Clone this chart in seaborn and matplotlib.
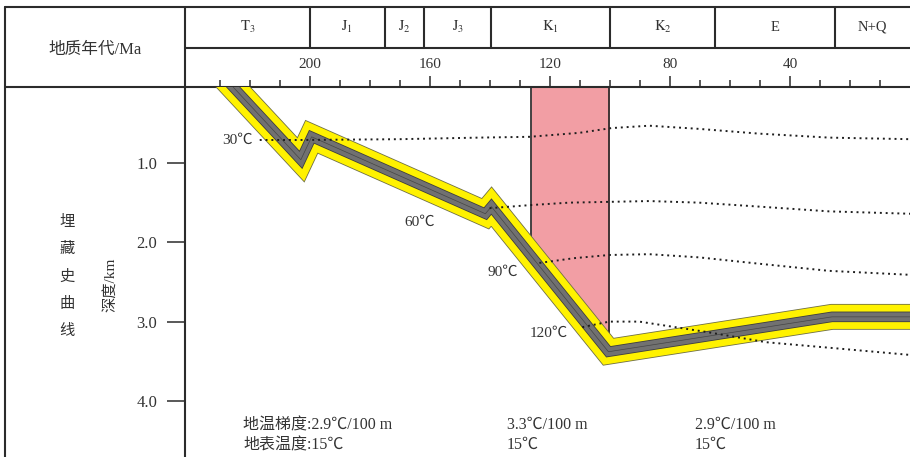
import numpy as np
import pandas as pd
import matplotlib
matplotlib.use("Agg")
import matplotlib.pyplot as plt
from matplotlib.lines import Line2D
from matplotlib.ticker import FormatStrFormatter
import seaborn as sns

# ---------------- data ----------------
# burial path of the reservoir strata: age (Ma) vs burial depth (km)
burial_age = [226.6, 203.0, 199.4, 141.5, 139.5, 100.5, 26.0, 0.0]
burial_depth = [0.00, 0.96, 0.67, 1.64, 1.55, 3.38, 2.94, 2.94]

# isotherms (age in Ma, depth in km)
iso30_age = [216.7, 203.3, 170.1, 143.5, 126.8, 110.2, 99.5, 86.9, 70.3, 50.3, 27.0, 0.0]
iso30_depth = [0.71, 0.71, 0.70, 0.68, 0.67, 0.62, 0.56, 0.53, 0.57, 0.63, 0.68, 0.70]
iso60_age = [140.1, 126.2, 113.5, 100.2, 86.9, 70.3, 50.3, 27.0, 0.0]
iso60_depth = [1.57, 1.53, 1.50, 1.49, 1.48, 1.50, 1.55, 1.61, 1.64]
iso90_age = [123.5, 111.9, 100.2, 86.9, 70.3, 50.3, 27.0, 0.0]
iso90_depth = [2.26, 2.20, 2.16, 2.15, 2.19, 2.27, 2.36, 2.41]
iso120_age = [109.2, 100.2, 90.2, 67.9, 47.9, 23.7, 0.0]
iso120_depth = [3.07, 3.00, 3.00, 3.13, 3.26, 3.34, 3.42]
iso_labels = ["30℃", "60℃", "90℃", "120℃"]

# stratigraphic periods and their boundaries (Ma)
period_names = [r"$\mathrm{T}_3$", r"$\mathrm{J}_1$", r"$\mathrm{J}_2$", r"$\mathrm{J}_3$",
                r"$\mathrm{K}_1$", r"$\mathrm{K}_2$", "E", "N+Q"]
period_bounds = [241.6, 200, 175, 162, 139.5, 100, 65, 25, 0]

age_ticks = [200, 160, 120, 80, 40]
age_minor = [a for a in range(10, 240, 10) if a not in age_ticks]
depth_ticks = [1.0, 2.0, 3.0, 4.0]

# high geothermal (heating) window, Ma
heat_start, heat_end = 126.2, 100.2

gradient_text = ["地温梯度:2.9℃/100 m", "3.3℃/100 m", "2.9℃/100 m"]
surface_text = ["地表温度:15℃", "15℃", "15℃"]

# ---------------- style ----------------
sns.set_theme(style="ticks")
plt.rcParams["font.family"] = ["Liberation Serif", "Noto Sans CJK SC"]
plt.rcParams["mathtext.fontset"] = "stix"

W, H = 910, 457
LINE = "#2b2b2b"
TXT = "#333333"


def fx(px):
    return px / W


def fy(py):
    return 1 - py / H


fig = plt.figure(figsize=(W / 100, H / 100), dpi=100)
ax = fig.add_axes([fx(185), 0, fx(910) - fx(185), fy(87)])
ax.set_xlim(241.6, 0)
ax.set_ylim(4.707, 0.042)

# heating window
wx = np.array([heat_start, 100.5, heat_end])
wy = np.interp(wx, burial_age[::-1], burial_depth[::-1])
ax.fill_between(wx, 0, wy, color="#f29ea4", lw=0, zorder=1)
for a in (heat_start, heat_end):
    d = np.interp(a, burial_age[::-1], burial_depth[::-1])
    ax.plot([a, a], [0, d], color="#222222", lw=1.2, zorder=2)

# burial band: outline, yellow body, grey core
burial = pd.DataFrame({"age": burial_age, "depth": burial_depth})
for col, lw, z in [("#6f6f45", 18.6, 3), ("#fff200", 17.4, 4),
                   ("#3e3e3e", 7.6, 5), ("#717171", 6.4, 6), ("#454545", 0.5, 6.5)]:
    sns.lineplot(data=burial, x="age", y="depth", sort=False, estimator=None,
                 color=col, lw=lw, solid_joinstyle="miter",
                 solid_capstyle="projecting", zorder=z, ax=ax)

# isotherms
for ages, depths in [(iso30_age, iso30_depth), (iso60_age, iso60_depth),
                     (iso90_age, iso90_depth), (iso120_age, iso120_depth)]:
    sns.lineplot(x=ages, y=depths, sort=False, estimator=None, color="#1e1e1e",
                 lw=1.4, linestyle=(0, (1.0, 2.0)), zorder=8, ax=ax)

ax.set_xlabel("")
ax.set_ylabel("")

# axes and ticks
for s in ("right", "bottom"):
    ax.spines[s].set_visible(False)
for s in ("left", "top"):
    ax.spines[s].set_color(LINE)
    ax.spines[s].set_linewidth(1.5)

ax.xaxis.set_ticks_position("top")
ax.set_xticks(age_ticks)
ax.set_xticks(age_minor, minor=True)
ax.tick_params(axis="x", which="major", direction="out", length=7.8, width=1.1,
               pad=3.5, labelsize=11, colors=LINE, labelcolor=TXT,
               top=True, bottom=False, labeltop=True, labelbottom=False)
ax.tick_params(axis="x", which="minor", direction="out", length=4.8, width=1.1,
               colors=LINE, top=True, bottom=False)
ax.set_yticks(depth_ticks)
ax.yaxis.set_major_formatter(FormatStrFormatter("%.1f"))
ax.tick_params(axis="y", direction="out", length=13, width=1.1, pad=7,
               labelsize=12, colors=LINE, labelcolor=TXT, left=True, right=False)

# header table
xt = ax.get_xaxis_transform()
top_y = (H - 7) / (H - 87)
row_y = (H - 48) / (H - 87)
for b in period_bounds[1:-1]:
    ax.plot([b, b], [row_y, top_y], transform=xt, color=LINE, lw=1.5, clip_on=False)
for name, a0, a1 in zip(period_names, period_bounds[:-1], period_bounds[1:]):
    ax.text((a0 + a1) / 2, (H - 27) / (H - 87), name, transform=xt,
            ha="center", va="center", fontsize=10.5, color=TXT)

for (x0, y0, x1, y1) in [(5, 7, 910, 7), (185, 48, 910, 48), (5, 87, 185, 87),
                         (5, 7, 5, 457), (185, 7, 185, 87)]:
    fig.add_artist(Line2D([fx(x0), fx(x1)], [fy(y0), fy(y1)], color=LINE, lw=1.5))

fig.text(fx(95), fy(50), "地质年代/Ma", ha="center", va="center", fontsize=12, color=TXT)

# left side titles
for ch, py in zip("埋藏史曲线", [222, 249, 277, 304, 331]):
    fig.text(fx(67), fy(py), ch, ha="center", va="center", fontsize=11, color=TXT)
fig.text(fx(110), fy(285), "深度/km", rotation=90, ha="center", va="center",
         fontsize=11, color=TXT)

# isotherm labels
for lab, (px, py) in zip(iso_labels, [(237, 140), (420, 222), (503, 272), (549, 333)]):
    fig.text(fx(px), fy(py), lab, ha="center", va="center", fontsize=11, color=TXT)

# geothermal notes
for g, s, px in zip(gradient_text, surface_text, [243, 507, 695]):
    fig.text(fx(px), fy(425), g, ha="left", va="center", fontsize=11.5, color=TXT)
    fig.text(fx(px), fy(445), s, ha="left", va="center", fontsize=11.5, color=TXT)

fig.savefig("out.png", dpi=100)
